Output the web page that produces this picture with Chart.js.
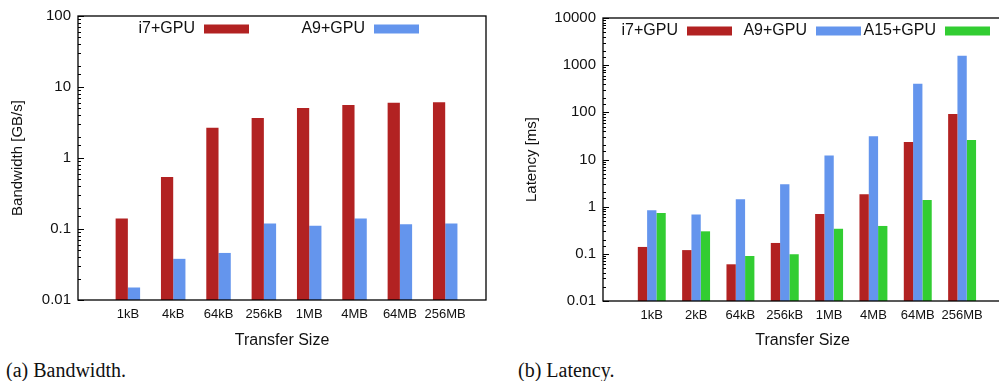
<!DOCTYPE html>
<html>
<head>
<meta charset="utf-8">
<script src="https://cdn.jsdelivr.net/npm/chart.js@4/dist/chart.umd.min.js"></script>
<style>
  html, body { margin: 0; padding: 0; background: #fff; overflow: hidden; }
  body { width: 999px; height: 381px; position: relative; }
  canvas { position: absolute; top: 0; }
  #bw { left: 0; }
  #lat { left: 500px; }
  .cap { position: absolute; top: 359px; font: 20px "Liberation Serif", serif; color: #111; }
</style>
</head>
<body>
<canvas id="bw" width="500" height="354"></canvas>
<canvas id="lat" width="510" height="355"></canvas>
<div class="cap" style="left:6px">(a) Bandwidth.</div>
<div class="cap" style="left:518px">(b) Latency.</div>
<script>
// transfer sizes
const sizesBw = ["1kB", "4kB", "64kB", "256kB", "1MB", "4MB", "64MB", "256MB"];
const sizesLat = ["1kB", "2kB", "64kB", "256kB", "1MB", "4MB", "64MB", "256MB"];

// bandwidth [GB/s]
const bwI7 = [0.14, 0.54, 2.67, 3.67, 5.06, 5.6, 6.0, 6.1];
const bwA9 = [0.015, 0.038, 0.046, 0.12, 0.111, 0.14, 0.117, 0.12];

// latency [ms]
const latI7 = [0.14, 0.12, 0.06, 0.17, 0.70, 1.83, 23.4, 92];
const latA9 = [0.84, 0.68, 1.43, 2.98, 12.2, 31, 405, 1590];
const latA15 = [0.73, 0.30, 0.09, 0.098, 0.34, 0.39, 1.38, 25.9];

const bwTicks = ["0.01", "0.1", "1", "10", "100"];
const latTicks = ["0.01", "0.1", "1", "10", "100", "1000", "10000"];

const RED = "#b22222", BLUE = "#6495ed", GREEN = "#32cd32";
const SANS = "'Liberation Sans', Arial, sans-serif";

function pts(labels, vals) {
  return labels.map((_, i) => ({ x: i, y: vals[i] }));
}

function isDecade(v) {
  const l = Math.log10(v);
  return Math.abs(l - Math.round(l)) < 1e-6;
}

// gnuplot-ish frame, inward y ticks and key (text left of the swatch)
const framePlugin = {
  id: "frame",
  afterDraw(chart, args, opts) {
    const { ctx, chartArea: a } = chart;
    const y = chart.scales.y;
    ctx.save();
    ctx.strokeStyle = "#000";
    ctx.lineWidth = 1.3;
    ctx.strokeRect(a.left, a.top, a.right - a.left, a.bottom - a.top);

    ctx.lineWidth = 1;
    y.ticks.forEach(t => {
      const py = Math.round(y.getPixelForValue(t.value)) + 0.5;
      const len = isDecade(t.value) ? 6 : 3;
      ctx.beginPath();
      ctx.moveTo(a.left, py);
      ctx.lineTo(a.left + len, py);
      ctx.stroke();
    });

    ctx.font = "16px " + SANS;
    ctx.textAlign = "right";
    ctx.textBaseline = "middle";
    ctx.fillStyle = "#111";
    const ky = a.top + 13;
    chart.data.datasets.forEach((ds, k) => {
      const tx = a.left + opts.x0 + k * opts.step;
      ctx.fillText(ds.label, tx, ky);
      ctx.fillStyle = ds.backgroundColor;
      ctx.fillRect(tx + 9, ky - 4.5, 45, 9);
      ctx.fillStyle = "#111";
    });
    ctx.restore();
  }
};

function makeChart(id, labels, datasets, cfg) {
  const ctx = document.getElementById(id).getContext("2d");
  return new Chart(ctx, {
    type: "bar",
    data: { datasets: datasets },
    plugins: [framePlugin],
    options: {
      responsive: false,
      animation: false,
      layout: { padding: cfg.padding },
      datasets: {
        bar: { categoryPercentage: cfg.catPct, barPercentage: 1, borderWidth: 0 }
      },
      plugins: {
        legend: { display: false },
        tooltip: { enabled: false },
        frame: cfg.key
      },
      scales: {
        x: {
          type: "linear",
          min: -1.1,
          max: 7.9,
          offset: false,
          grid: { display: false, drawTicks: false },
          border: { display: false },
          afterBuildTicks: s => { s.ticks = labels.map((_, i) => ({ value: i })); },
          afterFit: s => { s.height = cfg.xHeight; },
          ticks: {
            autoSkip: false,
            maxRotation: 0,
            padding: 7,
            color: "#111",
            font: { family: SANS, size: 13 },
            callback: v => labels[v] ?? ""
          },
          title: {
            display: true,
            text: "Transfer Size",
            color: "#111",
            font: { family: SANS, size: 16 },
            padding: { top: 4, bottom: cfg.xTitlePad }
          }
        },
        y: {
          type: "logarithmic",
          min: +cfg.yTicks[0],
          max: +cfg.yTicks[cfg.yTicks.length - 1],
          grid: { display: false, drawTicks: false },
          border: { display: false },
          afterFit: s => { s.width = cfg.yWidth; },
          ticks: {
            autoSkip: false,
            padding: 7,
            color: "#111",
            font: { family: SANS, size: 15 },
            callback: v => {
              const hit = cfg.yTicks.find(t => Math.abs(+t - v) < +t * 1e-6);
              return hit ?? "";
            }
          },
          title: {
            display: true,
            text: cfg.yTitle,
            color: "#111",
            font: { family: SANS, size: 15 },
            padding: { top: cfg.yTitlePad, bottom: 4 }
          }
        }
      }
    }
  });
}

makeChart("bw", sizesBw, [
  { label: "i7+GPU", data: pts(sizesBw, bwI7), backgroundColor: RED },
  { label: "A9+GPU", data: pts(sizesBw, bwA9), backgroundColor: BLUE }
], {
  padding: { top: 12, right: 14, left: 0, bottom: 0 },
  catPct: 0.54,
  xHeight: 54,
  xTitlePad: 4,
  yWidth: 78,
  yTitlePad: 9,
  yTicks: bwTicks,
  yTitle: "Bandwidth [GB/s]",
  key: { x0: 117, step: 170 }
});

makeChart("lat", sizesLat, [
  { label: "i7+GPU", data: pts(sizesLat, latI7), backgroundColor: RED },
  { label: "A9+GPU", data: pts(sizesLat, latA9), backgroundColor: BLUE },
  { label: "A15+GPU", data: pts(sizesLat, latA15), backgroundColor: GREEN }
], {
  padding: { top: 18, right: 8, left: 0, bottom: 0 },
  catPct: 0.63,
  xHeight: 54,
  xTitlePad: 5,
  yWidth: 103,
  yTitlePad: 23,
  yTicks: latTicks,
  yTitle: "Latency [ms]",
  key: { x0: 75, step: 129 }
});
</script>
</body>
</html>
